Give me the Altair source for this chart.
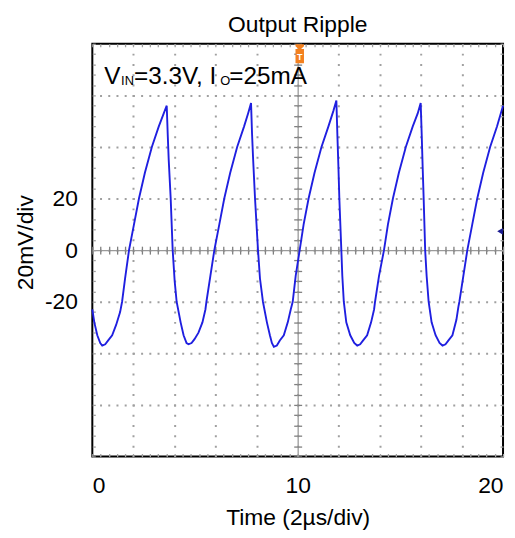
import altair as alt
import pandas as pd

# ---- data (time in divisions, ripple in mV) ----
time_div = [
    0.000, 0.097, 0.242, 0.386,
    0.483, 0.628, 0.773, 0.966, 1.159, 1.353, 1.449, 1.594, 1.787, 2.029, 2.271, 2.560, 2.899, 3.237, 3.478, 3.623,
    3.671, 3.720, 3.816, 3.913, 4.010, 4.106, 4.300, 4.444, 4.589,
    4.686, 4.831, 4.976, 5.169, 5.362, 5.507, 5.556, 5.749, 5.942, 6.184, 6.425, 6.715, 7.053, 7.391, 7.585, 7.729,
    7.778, 7.826, 7.923, 8.068, 8.164, 8.309, 8.502, 8.647, 8.744,
    8.841, 8.986, 9.130, 9.324, 9.517, 9.662, 9.758, 9.903, 10.097, 10.290, 10.531, 10.821, 11.159, 11.498, 11.739, 11.884,
    11.932, 11.981, 12.029, 12.126, 12.174, 12.246, 12.367, 12.560, 12.754,
    12.899, 13.043, 13.188, 13.382, 13.575, 13.720, 13.768, 13.961, 14.203, 14.396, 14.638, 14.928, 15.266, 15.604, 15.845, 15.990,
    16.039, 16.087, 16.135, 16.208, 16.280, 16.377, 16.522, 16.715, 16.908,
    17.053, 17.198, 17.343, 17.536, 17.729, 17.826, 17.874, 18.068, 18.261, 18.502, 18.744, 19.034, 19.372, 19.710, 20.000,
]
ripple_mv = [
    -23, -28, -33, -36,
    -37, -36.5, -35, -33, -29, -24, -20, -11, 0, 10, 20, 30, 40, 48, 53, 56,
    45, 35, 20, 0, -12, -20, -28, -33, -36,
    -36.5, -36, -34.5, -32, -28, -23, -20, -10, 0, 10, 20, 30, 40, 48, 53, 57,
    45, 36, 20, 0, -11, -20, -28, -33, -36,
    -37.5, -37, -35, -33, -28, -23, -20, -10, 0, 10, 20, 30, 40, 48, 54, 58,
    45, 33, 20, 0, -10, -20, -28, -33, -36,
    -37, -36.5, -35, -33, -28, -23, -20, -10, 0, 10, 20, 30, 40, 48, 53, 57,
    45, 32, 20, 0, -10, -20, -28, -33, -36,
    -37, -36.5, -35, -33, -27, -22, -20, -10, 0, 10, 20, 30, 40, 48, 56,
]

x_label_values = [0, 10, 20]
y_label_values = [-20, 0, 20]
x_grid_values = [2, 4, 6, 8, 10, 12, 14, 16, 18]
y_grid_values = [-60, -40, -20, 0, 20, 40, 60]
x_minor_values = [round(i * 0.4, 1) for i in range(51)]
y_minor_values = [i * 4 - 80 for i in range(41)]

trigger_time = [10.1]
ref_level_mv = [7.3]
ann_parts = ["V", "IN", "=3.3V, I", "O", "=25mA"]

chart_title = "Output Ripple"
x_title = "Time (2µs/div)"
y_title = "20mV/div"

# ---- chart ----
W, H = 414, 416
FONT = "Liberation Sans"

df = pd.DataFrame({"t": time_div, "v": ripple_mv})
xs = alt.Scale(domain=[0, 20], nice=False, zero=False)
ys = alt.Scale(domain=[-80, 80], nice=False, zero=False)
base = alt.Chart(df)


def axis_layer(xaxis, yaxis):
    return base.mark_line(opacity=0).encode(
        x=alt.X("t:Q", scale=xs, axis=xaxis),
        y=alt.Y("v:Q", scale=ys, axis=yaxis),
    )


def plain_axis(orient, values, offset=0, domain=False, tsize=4, tcolor="#7f7f7f"):
    kw = dict(orient=orient, values=values, labels=False, grid=False, title="",
              domain=domain, ticks=True, tickSize=tsize, tickColor=tcolor, tickWidth=1.3)
    if offset:
        kw["offset"] = offset
    if domain:
        kw.update(domainColor="#9a9a9a", domainWidth=1.3)
    return alt.Axis(**kw)


main_x = alt.Axis(orient="bottom", values=x_label_values, grid=False, ticks=False, domain=False,
                  labelFont=FONT, labelFontSize=23, labelColor="black", labelPadding=18,
                  labelFlush=True, title=x_title, titleFont=FONT, titleFontSize=23,
                  titleFontWeight="normal", titleColor="black", titleBaseline="alphabetic",
                  titleY=69)
main_y = alt.Axis(orient="left", values=y_label_values, grid=False, ticks=False, domain=False,
                  labelFont=FONT, labelFontSize=23, labelColor="black", labelPadding=15,
                  labelExpr="'' + datum.value",
                  title=y_title, titleFont=FONT, titleFontSize=23, titleFontWeight="normal",
                  titleColor="black", titleBaseline="alphabetic", titleAlign="center",
                  titleAngle=270, titleX=-60, titleY=200)

grid_x = alt.Axis(orient="bottom", values=x_grid_values, grid=True, gridColor="#a0a0a0",
                  gridWidth=2, gridDash=[2, 8.4], gridDashOffset=1, labels=False,
                  ticks=False, domain=False, title="")
grid_y = alt.Axis(orient="left", values=y_grid_values, grid=True, gridColor="#a0a0a0",
                  gridWidth=2, gridDash=[2, 6.28], gridDashOffset=1, labels=False,
                  ticks=False, domain=False, title="")

trace = base.mark_line(color="#1f1fe0", strokeWidth=1.9).encode(
    x=alt.X("t:Q", scale=xs, axis=main_x),
    y=alt.Y("v:Q", scale=ys, axis=main_y),
)

layers = [
    axis_layer(grid_x, grid_y),
    axis_layer(plain_axis("bottom", x_minor_values, offset=-H / 2, domain=True),
               plain_axis("left", y_minor_values, offset=-W / 2, domain=True)),
    axis_layer(plain_axis("top", x_minor_values, offset=-H / 2),
               plain_axis("right", y_minor_values, offset=-W / 2)),
    axis_layer(plain_axis("bottom", x_minor_values, offset=-H, tsize=3, tcolor="#a0a0a0"),
               plain_axis("right", y_minor_values, offset=-W, tsize=3, tcolor="#a0a0a0")),
    axis_layer(plain_axis("top", x_minor_values, offset=-H, tsize=3, tcolor="#a0a0a0"),
               plain_axis("left", y_minor_values, offset=-W, tsize=3, tcolor="#a0a0a0")),
    trace,
]

# trigger marker (orange pin with a white T)
PIN = ("M-0.45,-1 L0.45,-1 L0.45,-0.78 L0.14,-0.5 L0.45,-0.5 L0.45,1 "
       "L-0.45,1 L-0.45,-0.5 L-0.14,-0.5 L-0.45,-0.78 Z")
trig_df = pd.DataFrame({"t": trigger_time})
layers.append(alt.Chart(trig_df).mark_point(shape=PIN, filled=True, color="#f3801e", size=361,
                                            opacity=1, strokeWidth=0).encode(
    x=alt.X("t:Q", scale=xs, axis=None), y=alt.value(10)))
layers.append(alt.Chart(trig_df).mark_text(text="T", color="white", font=FONT, fontSize=9,
                                           fontWeight="bold", baseline="middle").encode(
    x=alt.X("t:Q", scale=xs, axis=None), y=alt.value(13)))

# reference level marker at the right edge
ref_df = pd.DataFrame({"v": ref_level_mv})
layers.append(alt.Chart(ref_df).mark_point(shape="triangle-left", filled=True, color="#1a1a90",
                                           size=45, opacity=1).encode(
    x=alt.value(W - 3), y=alt.Y("v:Q", scale=ys, axis=None)))

# annotation with subscripts
ann_style = [(12, 41, 24.5), (29, 42, 13), (42, 41, 24.5), (129, 42, 13), (138, 41, 24.5)]
for part, (px, py, fs) in zip(ann_parts, ann_style):
    layers.append(alt.Chart(pd.DataFrame({"s": [part]})).mark_text(
        font=FONT, fontSize=fs, color="black", align="left", baseline="alphabetic").encode(
        x=alt.value(px), y=alt.value(py), text=alt.Text("s:N")))

# chart title as a text mark above the plot
layers.append(alt.Chart(pd.DataFrame({"s": [chart_title]})).mark_text(
    font=FONT, fontSize=23, color="black", align="center", baseline="alphabetic").encode(
    x=alt.value(W / 2), y=alt.value(-12), text=alt.Text("s:N")))

chart = alt.layer(*layers).resolve_axis(x="independent", y="independent").properties(
    width=W, height=H,
    autosize=alt.AutoSizeParams(type="none"),
    padding={"left": 85, "top": 34, "right": 4, "bottom": 72},
    background="white",
).configure_view(stroke="black", strokeWidth=2)

chart.save("out.html", embed_options={"renderer": "svg", "actions": False})
